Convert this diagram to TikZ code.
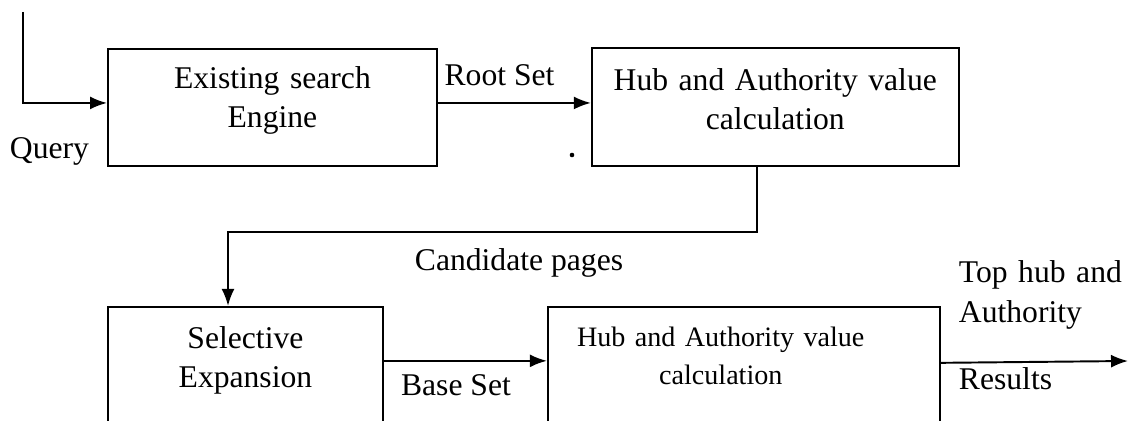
\documentclass[tikz,border=0pt]{standalone}
\usepackage{fontspec}
\setmainfont{Liberation Serif}
\usetikzlibrary{positioning,arrows.meta}

\begin{document}
\begin{tikzpicture}[
		x=0.02cm,y=-0.02cm,
		line width=1.1pt,
		>={Latex[length=0.34cm,width=0.26cm]},
		stagebox/.style={draw,inner sep=0pt,align=center,font=\fontsize{18pt}{22.2pt}\selectfont},
		lbl/.style={inner sep=0pt,font=\fontsize{18pt}{22.2pt}\selectfont}
		]
		\clip (0,0) rectangle (1128,421);
		\node[stagebox,anchor=north west,text width=6.58cm,text height=0.8cm,text depth=1.54cm] (engine) at (107,48) {Existing search\\Engine};
		\node[stagebox,right=3.06cm of engine,text width=7.34cm,text height=0.84cm,text depth=1.52cm] (hubone) {Hub and Authority value\\calculation};
		\node[stagebox,below=2.78cm of engine.south west,anchor=north west,text width=5.5cm,text height=0.84cm,text depth=1.88cm] (select) {Selective\\Expansion};
		% text sits a little left of the box centre
		\node[stagebox,right=3.26cm of select.north east,anchor=north west,text width=7.84cm,text height=0.8cm,text depth=1.9cm,font=\fontsize{16pt}{21.6pt}\selectfont] (hubtwo) {Hub and Authority value\hspace*{0.92cm}\mbox{}\\calculation\hspace*{0.92cm}\mbox{}};
		\coordinate (qstart) at (23,12);
		\coordinate (bend) at (228,232);
		\coordinate (out) at (1128,361);
		\draw[->] (qstart) |- ([yshift=0.09cm]engine.west);
		\draw[->] ([yshift=0.09cm]engine.east) -- ([yshift=0.09cm]engine.east -| hubone.west);
		\draw[->] ([xshift=-0.37cm]hubone.south) |- (bend) -- (bend |- select.north);
		\draw[->] ([yshift=0.28cm]select.east) -- ([yshift=0.28cm]select.east -| hubtwo.west);
		\draw[->] ([yshift=0.23cm]hubtwo.east) -- (out);
		\node[lbl,anchor=base] (query) at (49.5,159) {Query};
		\node[lbl,anchor=base] (rootset) at (499.5,86) {Root Set};
		\node[lbl,anchor=base] (cand) at (519,271) {Candidate pages};
		\node[lbl,anchor=base] (baseset) at (456,396) {Base Set};
		\node[lbl,anchor=base west,align=left,text width=4cm] (tophub) at (958,283) {Top hub and\\Authority};
		\node[lbl,anchor=base west] (results) at (958,390) {Results};
		\fill (572,155) circle (1.3pt);
	\end{tikzpicture}
\end{document}
